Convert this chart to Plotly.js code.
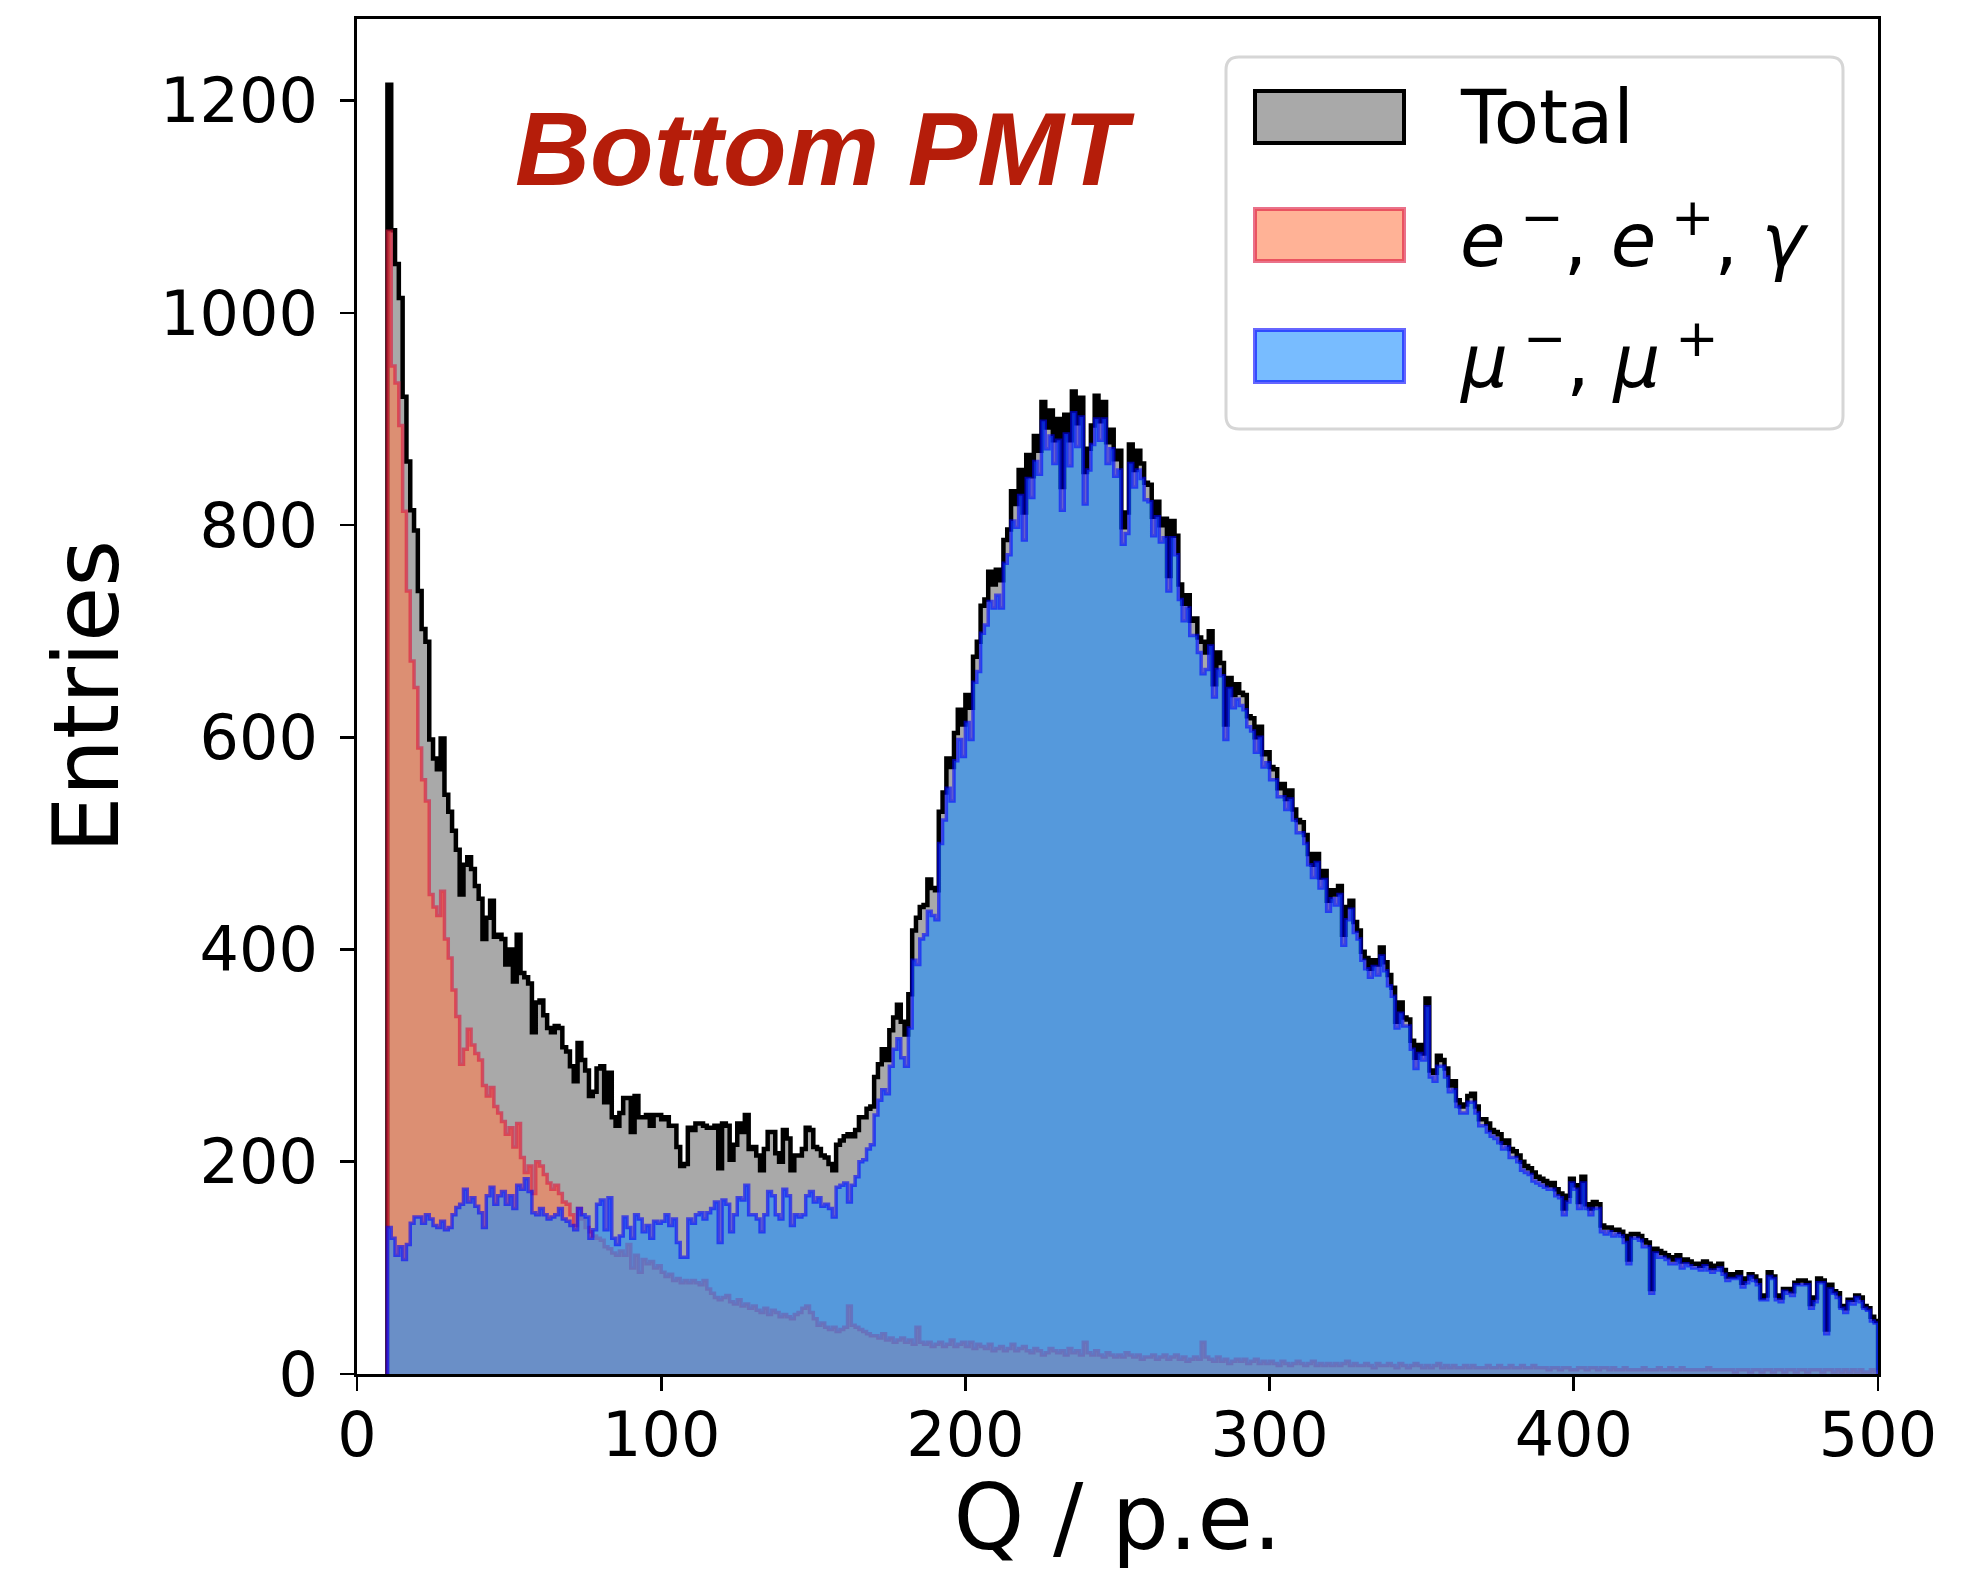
<!DOCTYPE html>
<html><head><meta charset="utf-8">
<script src="https://cdn.plot.ly/plotly-3.0.1.min.js"></script>
<style>html,body{margin:0;padding:0;background:#fff}#chart{width:1978px;height:1570px}</style>
</head><body><div id="chart"></div>
<script>
// Histogram binning (p.e.)
const binLow = 10;
const binWidth = 1.25;

// Total counts per bin (bins of 1.25 p.e. from 10 to 500)
const totalCounts = [
1215,1078,1046,1014,921,860,814,795,
738,702,690,598,580,570,599,546,
530,512,494,452,480,487,476,460,
448,410,430,446,412,414,410,386,
400,370,414,378,374,368,322,350,
352,338,326,322,328,326,308,304,
290,276,312,296,286,262,266,288,
290,256,284,242,234,246,260,260,
228,262,242,242,244,234,244,244,
240,242,234,234,214,196,198,232,
230,236,236,234,232,232,234,194,
236,234,202,216,236,228,244,212,
214,206,192,212,228,228,208,200,
230,222,192,206,206,212,232,230,
214,212,206,204,198,192,216,220,
224,226,224,230,242,242,250,252,
280,292,306,296,324,336,348,332,
320,358,418,430,440,442,466,458,
456,530,548,580,572,604,626,612,
640,628,676,690,724,730,756,744,
758,748,786,796,832,820,852,812,
866,846,884,870,916,892,908,880,
900,836,904,880,926,896,920,850,
872,894,922,898,916,878,890,862,
870,798,812,876,852,870,858,840,
838,808,822,800,806,752,804,790,
744,726,734,710,712,694,690,680,
700,650,680,670,612,656,640,650,
642,640,620,618,600,610,584,586,
572,570,552,556,542,550,532,522,
520,508,490,480,490,468,474,446,
456,452,460,414,440,446,426,418,
398,392,382,390,386,402,388,376,
364,332,350,336,334,314,298,310,
302,354,286,284,300,296,288,272,
276,258,252,254,262,264,252,240,
240,236,230,228,226,218,220,212,
210,206,200,196,194,190,186,184,
182,178,180,174,170,156,168,184,
178,162,186,160,156,162,160,140,
138,138,136,136,134,130,108,132,
132,130,126,124,80,118,116,114,
112,110,108,112,106,108,106,104,
104,102,106,104,100,102,104,98,
92,94,92,96,86,90,94,92,
88,72,74,96,92,74,72,80,
80,78,86,88,88,86,66,72,
90,88,42,84,78,76,64,62,
70,70,74,72,64,62,54,50
];

// e-, e+, gamma counts per bin
const eCounts = [
1077,950,934,894,813,738,672,647,
590,560,540,452,440,432,455,410,
392,362,337,292,306,325,310,302,
296,272,262,270,252,246,238,226,
232,214,236,204,190,196,170,200,
196,188,180,174,178,170,162,160,
150,140,156,146,138,134,130,128,
126,120,118,114,112,116,112,122,
100,112,96,108,104,106,100,102,
96,92,94,88,90,86,88,86,
88,86,84,88,80,76,72,70,
72,74,68,66,70,64,66,62,
64,60,58,62,56,60,58,54,
56,54,52,56,58,62,64,58,
52,46,48,44,42,44,40,42,
44,64,46,44,42,40,38,36,
36,34,38,32,34,30,32,34,
30,32,28,44,30,28,30,26,
28,30,26,28,32,26,28,30,
26,30,24,28,26,24,28,22,
24,26,22,24,28,22,24,26,
22,20,24,22,18,20,24,22,
20,22,18,24,20,22,18,30,
20,18,22,18,16,20,18,16,
18,16,20,18,16,18,14,16,
16,18,14,16,18,14,16,18,
14,16,12,14,16,14,30,16,
14,12,16,12,14,10,12,14,
12,14,10,12,14,10,12,10,
12,10,8,12,10,8,10,12,
10,8,10,12,8,10,8,10,
8,10,8,10,12,8,10,8,
8,10,8,6,10,8,8,10,
8,6,10,8,6,8,10,8,
6,8,6,8,10,6,8,6,
8,6,6,8,6,8,6,6,
6,8,6,6,8,6,6,8,
6,6,8,6,6,8,6,6,
6,4,6,6,4,6,6,4,
4,6,6,4,6,6,4,6,
6,4,6,4,4,6,4,4,
4,4,6,4,4,4,6,4,
4,6,4,4,6,4,4,4,
4,4,4,6,4,4,4,4,
4,4,2,4,4,4,2,4,
4,2,4,4,2,4,4,2,
4,4,2,4,4,2,4,4,
4,2,4,4,2,4,2,4,
2,4,2,4,2,2,4,2
];

// mu-, mu+ counts per bin
const muCounts = [
138,128,112,120,108,122,142,148,
148,142,150,146,140,138,144,136,
138,150,157,160,174,162,166,158,
152,138,168,176,160,168,172,160,
168,156,178,174,184,172,152,150,
156,150,146,148,150,156,146,144,
140,136,156,150,148,128,136,160,
164,136,166,128,122,130,148,138,
128,150,146,134,140,128,144,142,
144,150,140,146,124,110,110,146,
142,150,152,146,152,156,162,124,
164,160,134,150,166,164,178,150,
150,146,134,150,172,168,150,146,
174,168,140,150,148,150,168,172,
162,166,158,160,156,148,176,178,
180,162,178,186,200,202,212,216,
244,258,268,264,290,306,316,298,
290,326,390,386,410,414,436,432,
428,500,522,552,540,578,598,582,
614,598,652,662,698,706,728,722,
734,722,764,772,804,798,828,786,
844,826,860,848,898,872,884,858,
880,814,886,856,906,874,902,820,
852,876,900,880,900,858,872,846,
852,782,792,858,836,852,844,824,
822,790,808,784,788,738,788,772,
730,710,722,696,696,680,660,664,
686,638,664,658,598,646,628,636,
630,626,610,606,586,600,572,576,
560,560,544,544,532,542,522,510,
510,500,480,468,482,458,466,436,
448,442,452,404,428,438,416,410,
390,382,374,384,376,394,380,366,
356,326,340,328,328,306,288,302,
296,346,280,276,290,290,280,266,
268,252,246,246,256,256,246,234,
234,228,224,222,218,212,214,204,
204,200,192,190,188,182,180,178,
176,174,174,168,166,150,162,180,
174,156,180,156,150,156,156,134,
132,134,130,132,130,124,104,128,
128,126,120,120,76,114,110,110,
108,104,104,108,100,104,102,100,
100,98,102,98,96,98,100,94,
88,90,90,92,82,86,92,88,
84,70,70,92,90,70,68,78,
76,74,84,84,84,84,62,68,
86,86,38,80,76,72,62,58,
68,66,72,68,62,60,50,48
];

const seriesNames = ['Total',
  '<i>e</i>\u2009<sup>−</sup>, <i>e</i>\u2009<sup>+</sup>, <i>γ</i>',
  '<i>μ</i>\u2009<sup>−</sup>, <i>μ</i>\u2009<sup>+</sup>'];
const xTickVals = [0, 100, 200, 300, 400, 500];
const yTickVals = [0, 200, 400, 600, 800, 1000, 1200];
const xTitle = 'Q / p.e.';
const yTitle = 'Entries';
const chartTitle = 'Bottom PMT';

// styles
const totalFill = '#a9a9a9', totalLine = '#000000';
const eFill = 'rgba(255,127,80,0.6)', eLine = 'rgba(220,20,60,0.6)';
const muFill = 'rgba(30,144,255,0.6)', muLine = 'rgba(0,0,255,0.6)';

function stepPath(counts) {
  const x = [binLow], y = [0];
  counts.forEach((c, i) => { x.push(binLow + i * binWidth); y.push(c); });
  const end = binLow + counts.length * binWidth;
  x.push(end); y.push(counts[counts.length - 1]);
  x.push(end); y.push(0);
  return {x, y};
}
function histTrace(counts, name, fill, line, w) {
  const p = stepPath(counts);
  return {type: 'scatter', mode: 'lines', name: name, x: p.x, y: p.y,
    line: {shape: 'hv', color: line, width: w},
    fill: 'tozeroy', fillcolor: fill, hoverinfo: 'skip', showlegend: false};
}

const data = [
  histTrace(totalCounts, seriesNames[0], totalFill, totalLine, 4.5),
  histTrace(eCounts, seriesNames[1], eFill, eLine, 3.5),
  histTrace(muCounts, seriesNames[2], muFill, muLine, 3.5)
];

const W = 1978, H = 1570, ML = 357, MR = 100, MT = 19, MB = 196;
const pw = W - ML - MR, ph = H - MT - MB;
const px = X => (X - ML) / pw;
const py = Y => (H - MB - Y) / ph;

// custom legend (matplotlib-like large patches)
const bx0 = px(1226), bx1 = px(1843), by0 = py(429), by1 = py(57);
const rx = 13 / pw, ry = 13 / ph;
const boxPath = `M ${bx0+rx},${by0} L ${bx1-rx},${by0} Q ${bx1},${by0} ${bx1},${by0+ry} L ${bx1},${by1-ry} Q ${bx1},${by1} ${bx1-rx},${by1} L ${bx0+rx},${by1} Q ${bx0},${by1} ${bx0},${by1-ry} L ${bx0},${by0+ry} Q ${bx0},${by0} ${bx0+rx},${by0} Z`;
const patchX0 = px(1255), patchX1 = px(1404);
const rowCenters = [117, 235, 356];
const patchH = 52;
const patchStyles = [[totalFill, totalLine], [eFill, eLine], [muFill, muLine]];
const shapes = [{type: 'path', xref: 'paper', yref: 'paper', path: boxPath,
  line: {color: '#d6d6d6', width: 3}, fillcolor: 'rgba(255,255,255,0.8)', layer: 'above'}];
const annotations = [];
rowCenters.forEach((yc, i) => {
  shapes.push({type: 'rect', xref: 'paper', yref: 'paper', x0: patchX0, x1: patchX1,
    y0: py(yc + patchH / 2), y1: py(yc - patchH / 2),
    fillcolor: patchStyles[i][0], line: {color: patchStyles[i][1], width: 4}, layer: 'above'});
  annotations.push({xref: 'paper', yref: 'paper', x: px(1458), y: py(yc), xanchor: 'left', yanchor: 'middle',
    text: seriesNames[i], showarrow: false,
    font: {family: 'DejaVu Sans', size: 74, color: '#000'}});
});

const axisCommon = {
  showline: true, mirror: true, linecolor: '#000', linewidth: 2.7,
  ticks: 'outside', ticklen: 14, tickwidth: 2.7, tickcolor: '#000',
  tickfont: {family: 'DejaVu Sans', size: 62, color: '#000'},
  showgrid: false, zeroline: false, fixedrange: true
};

const layout = {
  width: W, height: H,
  margin: {l: ML, r: MR, t: MT, b: MB, pad: 0},
  paper_bgcolor: '#fff', plot_bgcolor: '#fff',
  showlegend: false,
  title: {text: chartTitle, xref: 'paper', yref: 'paper', x: px(515), xanchor: 'left',
    y: py(149), yanchor: 'middle',
    font: {family: 'Liberation Sans', size: 104, color: '#b51d0a', weight: 'bold', style: 'italic'}},
  xaxis: Object.assign({}, axisCommon, {range: [0, 500], tickmode: 'array', tickvals: xTickVals,
    ticklabelstandoff: -9,
    title: {text: xTitle, font: {family: 'DejaVu Sans', size: 90, color: '#000'}, standoff: 35}}),
  yaxis: Object.assign({}, axisCommon, {range: [0, 1277], tickmode: 'array', tickvals: yTickVals,
    ticklabelstandoff: 10,
    title: {text: yTitle, font: {family: 'DejaVu Sans', size: 90, color: '#000'}, standoff: 12}}),
  shapes: shapes,
  annotations: annotations
};

Plotly.newPlot('chart', data, layout, {staticPlot: true, displayModeBar: false});
</script>
</body></html>
